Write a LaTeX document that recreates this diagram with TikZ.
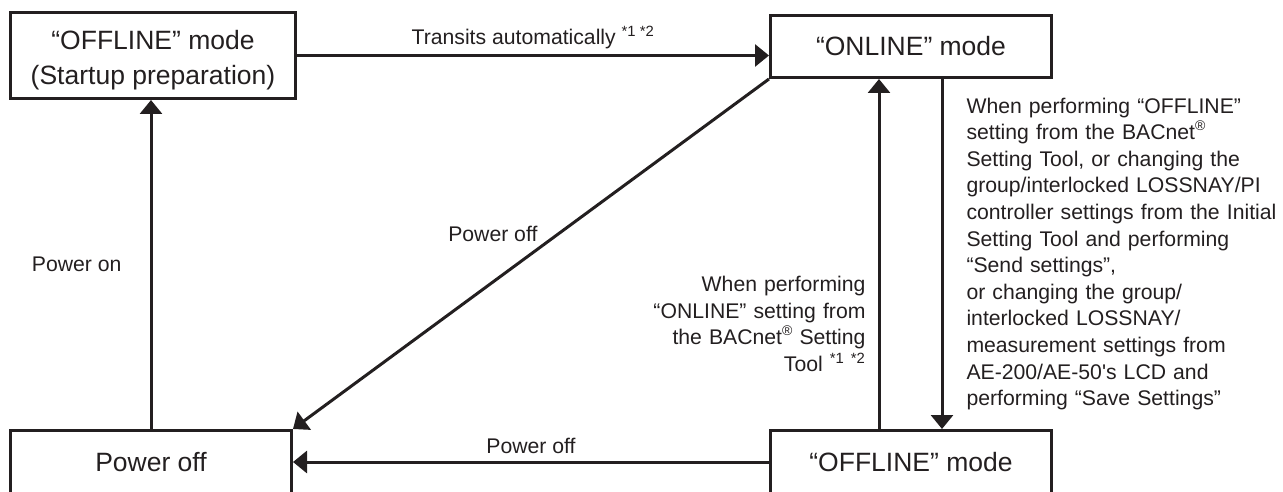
\documentclass[tikz,border=0pt]{standalone}
\usepackage{fontspec}
\setmainfont{Liberation Sans}
\usetikzlibrary{arrows.meta}
\definecolor{ink}{RGB}{35,31,32}
\newcommand{\regmark}{\raisebox{9pt}{\fontsize{14}{14}\selectfont\textregistered}}

\begin{document}
\begin{tikzpicture}[x=1pt, y=-1pt,
    modebox/.style={draw=ink, line width=3pt, text=ink, minimum width=281pt, minimum height=63pt, inner sep=0pt, align=center, font=\fontsize{26.5}{35}\selectfont},
    trans/.style={draw=ink, line width=3pt, -{Triangle[length=14pt, width=22pt]}},
    note/.style={text=ink, inner sep=0pt, font=\fontsize{21.2}{26.6}\selectfont}]
  % Frame
  \useasboundingbox (0,0) rectangle (1283,492);
  \clip (0,0) rectangle (1283,492);

  % Modes
  \node[modebox, minimum width=285pt, minimum height=86pt] (startup) at (153,55.5) {\rule{0pt}{29pt}“OFFLINE” mode\\(Startup preparation)};
  \node[modebox, minimum height=62pt] (online) at (911,46.5) {“ONLINE” mode};
  \node[modebox] (poweroff) at (151,462) {Power off};
  \node[modebox] (offline) at (911,462) {“OFFLINE” mode};

  % Transits automatically
  \draw[trans] (startup.east) -- (startup.east -| online.west)
    node[midway, above=3.5pt, note, inner sep=2pt] {Transits automatically \textsuperscript{*1 *2}};

  % Power on
  \draw[trans] (poweroff.north) -- (poweroff.north |- startup.south)
    node[midway, left=28pt, note] {Power on};

  % Power off from ONLINE
  \draw[trans] (online.south west) -- (poweroff.north east)
    node[pos=0.477, above left, note, inner sep=3pt] {Power off};

  % Power off from OFFLINE
  \draw[trans] (offline.west) -- (poweroff.east)
    node[midway, above=5pt, note, inner sep=2pt] {Power off};

  % OFFLINE -> ONLINE
  \draw[trans] ([xshift=-32pt]offline.north) -- ([xshift=-32pt]online.south)
    node[pos=0.3, left=10pt, note, inner sep=2pt, text width=230pt, align=right]
    {When performing\\“ONLINE” setting from\\the BACnet\regmark{} Setting\\Tool \textsuperscript{*1 *2}};

  % ONLINE -> OFFLINE
  \draw[trans] ([xshift=31pt]online.south) -- ([xshift=31pt]offline.north)
    node[midway, right=21pt, note, inner sep=2pt, text width=320pt, align=left]
    {When performing “OFFLINE”\\setting from the BACnet\regmark\\Setting Tool, or changing the\\group/interlocked LOSSNAY/PI\\controller settings from the Initial\\Setting Tool and performing\\“Send settings”,\\or changing the group/\\interlocked LOSSNAY/\\measurement settings from\\AE-200/AE-50\textquotesingle s LCD and\\performing “Save Settings”};
\end{tikzpicture}
\end{document}
